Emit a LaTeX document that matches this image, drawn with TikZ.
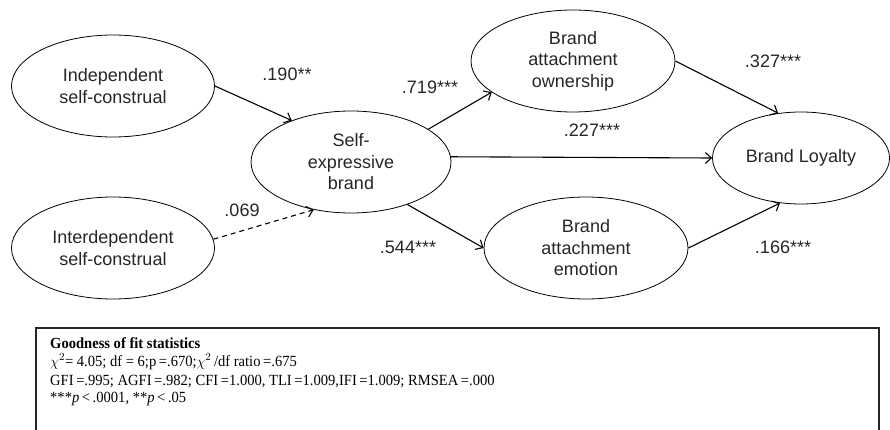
\documentclass[tikz,border=0pt]{standalone}
\usepackage{fontspec}
\setmainfont{Liberation Serif}
\setsansfont{Liberation Sans}
\newfontfamily\statfont{Liberation Serif}[FakeStretch=0.94]
\usetikzlibrary{shapes.geometric,arrows.meta}

\begin{document}
\begin{tikzpicture}[x=1pt, y=1pt,
    every node/.style={font=\sffamily\fontsize{18}{21.5}\selectfont, align=center, text=black!85},
    construct/.style={ellipse, draw, line width=0.8pt, inner sep=0pt, minimum width=203pt, minimum height=102pt},
    effect/.style={draw, line width=1.1pt, -{Straight Barb[length=6pt,width=11pt]}},
    weak/.style={effect, dash pattern=on 5pt off 4pt},
    stat/.style={font=\statfont\fontsize{15.5}{17}\selectfont, anchor=base west, inner sep=0pt, text=black}]
        \useasboundingbox (0,0) rectangle (890,429);
        \node[construct] (indep) at (113,343) {Independent\\self-construal};
        \node[construct] (interdep) at (113,181) {Interdependent\\self-construal};
        \node[construct, minimum width=200pt] (selfexp) at (351,267) {Self-\\expressive\\brand};
        \node[construct, minimum width=204pt] (owner) at (573,368) {Brand\\attachment\\ownership};
        \node[construct, minimum width=204pt] (emotion) at (586,181) {Brand\\attachment\\emotion};
        \node[construct, minimum width=177pt, minimum height=92pt] (loyalty) at (801,271) {Brand Loyalty};
        \draw[effect] (indep.east) -- (selfexp.145);
        \draw[weak] (interdep.5) -- (selfexp.232);
        \draw[effect] (selfexp.23) -- (owner.201);
        \draw[effect] (selfexp.3) -- (loyalty.west);
        \draw[effect] (selfexp.-37) -- (emotion.west);
        \draw[effect] (owner.east) -- (loyalty.117);
        \draw[effect] (emotion.east) -- (loyalty.245);
        \node (w190) at (287,355) {.190**};
        \node (w069) at (242,219) {.069};
        \node (w719) at (430,342) {.719***};
        \node (w544) at (408,182) {.544***};
        \node (w227) at (592,299) {.227***};
        \node (w327) at (773,368) {.327***};
        \node (w166) at (783,182) {.166***};
        \draw[line width=1.3pt, black!85] (36,-20) -- (36,101) -- (879,101) -- (879,-20);
        \node[stat] (gof) at (50,81) {\textbf{Goodness of fit statistics}};
        \node[stat] (chi) at (50,63) {$\chi^2$= 4.05; df = 6;p\,=.670;$\chi^2$\,/df ratio\,=.675};
        \node[stat] (fit) at (50,44) {GFI\,=.995; AGFI\,=.982; CFI\,=1.000, TLI\,=1.009,IFI\,=1.009; RMSEA\,=.000};
        \node[stat] (sig) at (50,27) {***\textit{p}\,<\,.0001, **\textit{p}\,<\,.05};
      \end{tikzpicture}
\end{document}
